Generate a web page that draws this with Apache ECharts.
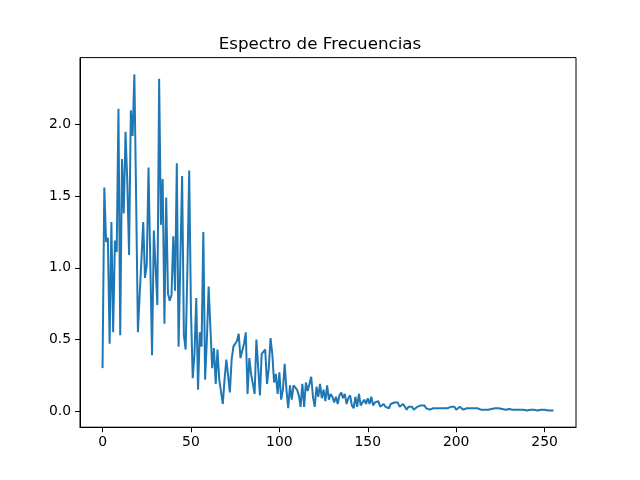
<!DOCTYPE html>
<html>
<head>
<meta charset="utf-8">
<script src="https://cdn.jsdelivr.net/npm/echarts@6/dist/echarts.min.js"></script>
<style>html,body{margin:0;padding:0;background:#fff;}#c{width:640px;height:480px;}</style>
</head>
<body>
<div id="c"></div>
<script>
const titleText = "Espectro de Frecuencias";
const xTicks = [0, 50, 100, 150, 200, 250];
const yTicks = [0, 0.5, 1.0, 1.5, 2.0];
const magnitudes = [
  0.30, 1.56, 1.18, 1.21, 0.47, 1.32, 0.55, 1.19, 1.11, 2.11,
  0.53, 1.76, 1.38, 1.95, 1.60, 1.09, 2.10, 1.92, 2.35, 1.48,
  0.55, 0.81, 1.06, 1.32, 0.93, 1.02, 1.70, 1.04, 0.39, 1.26,
  1.00, 0.74, 2.32, 1.30, 1.62, 0.61, 1.49, 0.82, 0.77, 0.81,
  1.22, 0.84, 1.73, 0.45, 1.05, 1.64, 0.53, 0.43, 1.00, 1.68,
  0.70, 0.23, 0.40, 0.79, 0.15, 0.55, 0.45, 1.25, 0.22, 0.50,
  0.87, 0.58, 0.30, 0.44, 0.19, 0.43, 0.22, 0.23, 0.05, 0.22,
  0.36, 0.25, 0.13, 0.36, 0.45, 0.46, 0.49, 0.54, 0.37, 0.38,
  0.47, 0.55, 0.12, 0.37, 0.26, 0.26, 0.12, 0.50, 0.31, 0.11,
  0.40, 0.39, 0.43, 0.19, 0.30, 0.51, 0.40, 0.20, 0.26, 0.12,
  0.27, 0.08, 0.15, 0.33, 0.15, 0.02, 0.18, 0.08, 0.18, 0.18,
  0.15, 0.11, 0.03, 0.19, 0.03, 0.20, 0.14, 0.13, 0.24, 0.10,
  0.03, 0.17, 0.10, 0.19, 0.09, 0.15, 0.07, 0.18, 0.08, 0.12,
  0.10, 0.06, 0.10, 0.05, 0.11, 0.13, 0.09, 0.12, 0.05, 0.09,
  0.11, 0.04, 0.02, 0.10, 0.03, 0.12, 0.04, 0.03, 0.08, 0.05,
  0.09, 0.05, 0.10, 0.04, 0.06, 0.05, 0.07, 0.03, 0.02, 0.05,
  0.03, 0.04, 0.02, 0.05, 0.04, 0.06, 0.05, 0.06, 0.03, 0.02,
  0.05, 0.03, 0.01, 0.03, 0.02, 0.03, 0.01, 0.02, 0.03, 0.02,
  0.04, 0.05, 0.04, 0.02, 0.03, 0.01, 0.02, 0.02, 0.03, 0.02,
  0.01, 0.02, 0.03, 0.02, 0.03, 0.02, 0.01, 0.03, 0.02, 0.03,
  0.01, 0.02, 0.03, 0.02, 0.01, 0.02, 0.02, 0.03, 0.02, 0.01,
  0.02, 0.03, 0.02, 0.02, 0.01, 0.02, 0.01, 0.015, 0.01, 0.005,
  0.015, 0.02, 0.02, 0.025, 0.02, 0.02, 0.015, 0.02, 0.01, 0.005,
  0.015, 0.01, 0.01, 0.015, 0.01, 0.01, 0.01, 0.015, 0.01, 0.01,
  0.005, 0.01, 0.01, 0.015, 0.01, 0.01, 0.005, 0.01, 0.01, 0.005,
  0.01, 0.01, 0.005, 0.005, 0.005, 0.005
];

const font = "DejaVu Sans";
const n = magnitudes.length;
const xPad = (n - 1) * 0.05;
let yMin = Math.min.apply(null, magnitudes), yMax = Math.max.apply(null, magnitudes);
const yPad = (yMax - yMin) * 0.05;

const chart = echarts.init(document.getElementById('c'), null, {renderer: 'canvas'});
chart.setOption({
  animation: false,
  backgroundColor: '#ffffff',
  title: {
    text: titleText, left: 'center', top: 36, padding: 0,
    textStyle: {fontFamily: font, fontSize: 16.7, fontWeight: 'normal', color: '#000'}
  },
  grid: {left: 80, right: 64, top: 57.6, bottom: 52.8, show: true, borderColor: '#000', borderWidth: 1, backgroundColor: 'transparent'},
  xAxis: {
    type: 'value', min: -xPad, max: (n - 1) + xPad,
    axisLine: {show: true, onZero: false, lineStyle: {color: '#000', width: 1}},
    axisTick: {show: true, inside: false, length: 5, lineStyle: {color: '#000'}, customValues: xTicks},
    axisLabel: {show: true, margin: 8, color: '#000', fontFamily: font, fontSize: 13.9, customValues: xTicks,
      formatter: v => String(Math.round(v))},
    splitLine: {show: false}
  },
  yAxis: {
    type: 'value', min: yMin - yPad, max: yMax + yPad,
    axisLine: {show: true, onZero: false, lineStyle: {color: '#000', width: 1}},
    axisTick: {show: true, inside: false, length: 5, lineStyle: {color: '#000'}, customValues: yTicks},
    axisLabel: {show: true, margin: 9, color: '#000', fontFamily: font, fontSize: 13.9, customValues: yTicks,
      formatter: v => v.toFixed(1)},
    splitLine: {show: false}
  },
  series: [{
    type: 'line', showSymbol: false, symbol: 'none',
    data: magnitudes.map((v, i) => [i, v]),
    lineStyle: {color: '#1f77b4', width: 2},
    itemStyle: {color: '#1f77b4'}
  }]
});
</script>
</body>
</html>
